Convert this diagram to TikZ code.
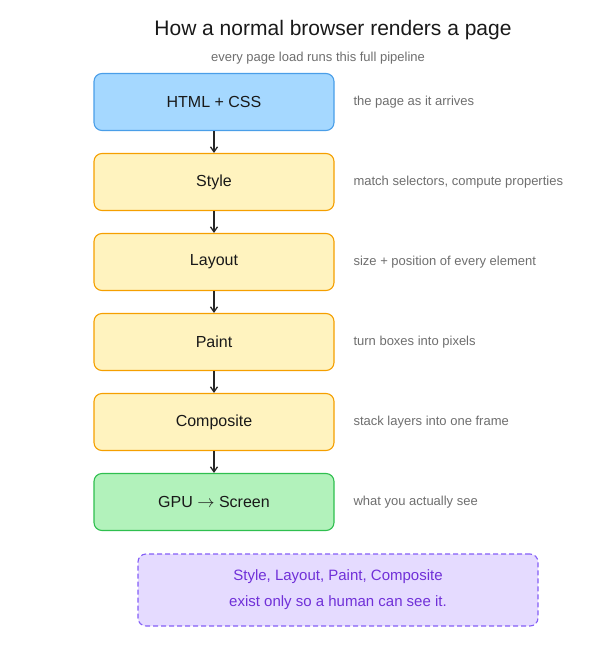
\documentclass[tikz,border=0pt]{standalone}
\usepackage{fontspec}
\setmainfont{Liberation Sans}
\usetikzlibrary{arrows.meta, positioning}
\definecolor{bluefill}{HTML}{A5D8FF}
\definecolor{bluedraw}{HTML}{4A9EE8}
\definecolor{yelfill}{HTML}{FFF3BF}
\definecolor{yeldraw}{HTML}{F59F00}
\definecolor{grnfill}{HTML}{B2F2BB}
\definecolor{grndraw}{HTML}{2FBF4F}
\definecolor{purfill}{HTML}{E5DBFF}
\definecolor{purdraw}{HTML}{845EF7}
\definecolor{purtext}{HTML}{7030D8}
\definecolor{notegray}{HTML}{6E6E6E}
\tikzset{
  stage/.style={draw, rounded corners=8pt, line width=1.1pt, minimum width=240pt,
    minimum height=57pt, font=\fontsize{16}{19}\selectfont, text=black!90},
  html/.style={stage, fill=bluefill, draw=bluedraw},
  phase/.style={stage, fill=yelfill, draw=yeldraw},
  gpu/.style={stage, fill=grnfill, draw=grndraw},
  note/.style={anchor=west, font=\fontsize{13}{15}\selectfont, text=notegray},
  flow/.style={-{Straight Barb[length=5pt,width=7pt]}, line width=1.3pt, black!85}
}
\begin{document}
\begin{tikzpicture}[x=1pt, y=-1pt]
\useasboundingbox (0,0) rectangle (610,665);
\node[font=\fontsize{21}{25}\selectfont, text=black!90] (title) at (333,30) {How a normal browser renders a page};
\node[font=\fontsize{13}{15}\selectfont, text=notegray] (sub) at (318,58) {every page load runs this full pipeline};
\node[html] (s1) at (214,102) {HTML + CSS};
\node[phase] (s2) at (214,182) {Style};
\node[phase] (s3) at (214,262) {Layout};
\node[phase] (s4) at (214,342) {Paint};
\node[phase] (s5) at (214,422) {Composite};
\node[gpu] (s6) at (214,502) {GPU $\rightarrow$ Screen};
\node[note] (n1) at (350,102) {the page as it arrives};
\node[note] (n2) at (350,182) {match selectors, compute properties};
\node[note] (n3) at (350,262) {size + position of every element};
\node[note] (n4) at (350,342) {turn boxes into pixels};
\node[note] (n5) at (350,422) {stack layers into one frame};
\node[note] (n6) at (350,502) {what you actually see};
% Arrows
\foreach \a/\b in {s1/s2, s2/s3, s3/s4, s4/s5, s5/s6}
  \draw[flow] (\a) -- (\b);
% Footnote box
\node[draw=purdraw, fill=purfill, dashed, dash pattern=on 5pt off 3pt, line width=1.1pt,
  rounded corners=8pt, minimum width=400pt, minimum height=72pt, align=center,
  text=purtext, font=\fontsize{15}{26}\selectfont] (foot) at (338,590)
  {Style, Layout, Paint, Composite\\exist only so a human can see it.};
\end{tikzpicture}
\end{document}
